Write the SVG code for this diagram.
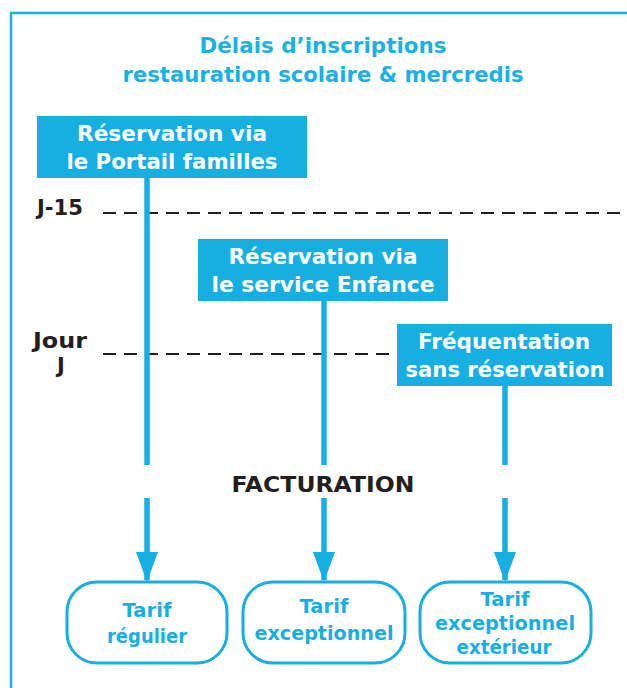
<svg xmlns="http://www.w3.org/2000/svg" width="627" height="688" viewBox="0 0 627 688">
<defs>
<style>
text{font-family:"DejaVu Sans","Liberation Sans",sans-serif;font-weight:700}
.frame{fill:none;stroke:#1ab1e3;stroke-width:2.5}
.title{font-size:21px;fill:#1ab1e3;text-anchor:middle}
.boxt{font-size:21px;fill:#ffffff;text-anchor:middle}
.lbl{font-size:21px;fill:#231f20}
.box{fill:#17aee1}
.tar{fill:#ffffff;stroke:#17aee1;stroke-width:3}
.tart{font-size:20px;fill:#17aee1;text-anchor:middle}
.dash{stroke:#231f20;stroke-width:2.2;stroke-dasharray:13 8;fill:none}
.vl{stroke:#17aee1;stroke-width:5.5;fill:none}
</style>
<marker id="arr" viewBox="0 0 30 22" refX="28" refY="11" markerWidth="30" markerHeight="22" markerUnits="userSpaceOnUse" orient="auto">
<path d="M0,0 L30,11 L0,22 Z" fill="#17aee1"/>
</marker>
</defs>
<path class="frame" d="M11,688 L11,13 L627,13"/>
<g id="title">
<text class="title" x="323" y="53" textLength="247" lengthAdjust="spacingAndGlyphs">Délais d’inscriptions</text>
<text class="title" x="323" y="82" textLength="401" lengthAdjust="spacingAndGlyphs">restauration scolaire &amp; mercredis</text>
</g>
<g id="timeline">
<text class="lbl" x="37" y="215" textLength="46" lengthAdjust="spacingAndGlyphs">J-15</text>
<path class="dash" d="M103,213 L627,213"/>
<text class="lbl" x="33" y="348" textLength="54" lengthAdjust="spacingAndGlyphs">Jour</text>
<text class="lbl" x="61" y="373" text-anchor="middle">J</text>
<path class="dash" d="M103,354 L397,354"/>
<text class="lbl" x="323" y="492" text-anchor="middle" font-size="23" textLength="183" lengthAdjust="spacingAndGlyphs">FACTURATION</text>
</g>
<g id="connectors">
<path class="vl" d="M147,178 L147,465"/>
<path class="vl" d="M147,498 L147,580" marker-end="url(#arr)"/>
<path class="vl" d="M324,301 L324,465"/>
<path class="vl" d="M324,498 L324,580" marker-end="url(#arr)"/>
<path class="vl" d="M505,386 L505,465"/>
<path class="vl" d="M505,498 L505,580" marker-end="url(#arr)"/>
</g>
<g id="portail">
<rect class="box" x="37" y="116" width="270" height="62"/>
<text class="boxt" x="172" y="141" textLength="190" lengthAdjust="spacingAndGlyphs">Réservation via</text>
<text class="boxt" x="172" y="169" textLength="211" lengthAdjust="spacingAndGlyphs">le Portail familles</text>
</g>
<g id="enfance">
<rect class="box" x="198" y="239" width="250" height="62"/>
<text class="boxt" x="323" y="264" textLength="189" lengthAdjust="spacingAndGlyphs">Réservation via</text>
<text class="boxt" x="323" y="292" textLength="223" lengthAdjust="spacingAndGlyphs">le service Enfance</text>
</g>
<g id="frequentation">
<rect class="box" x="397" y="324" width="215" height="62"/>
<text class="boxt" x="504" y="349" textLength="172" lengthAdjust="spacingAndGlyphs">Fréquentation</text>
<text class="boxt" x="505" y="377" textLength="199" lengthAdjust="spacingAndGlyphs">sans réservation</text>
</g>
<g id="tarif-regulier">
<rect class="tar" x="67" y="582" width="160" height="81" rx="30"/>
<text class="tart" x="147" y="617" textLength="49" lengthAdjust="spacingAndGlyphs">Tarif</text>
<text class="tart" x="147" y="643" textLength="80" lengthAdjust="spacingAndGlyphs">régulier</text>
</g>
<g id="tarif-exceptionnel">
<rect class="tar" x="243" y="582" width="162" height="81" rx="30"/>
<text class="tart" x="324" y="613" textLength="49" lengthAdjust="spacingAndGlyphs">Tarif</text>
<text class="tart" x="324" y="640" textLength="139" lengthAdjust="spacingAndGlyphs">exceptionnel</text>
</g>
<g id="tarif-exterieur">
<rect class="tar" x="420" y="582" width="171" height="81" rx="30"/>
<text class="tart" x="505" y="606" textLength="49" lengthAdjust="spacingAndGlyphs">Tarif</text>
<text class="tart" x="505" y="630" textLength="140" lengthAdjust="spacingAndGlyphs">exceptionnel</text>
<text class="tart" x="504" y="654" textLength="95" lengthAdjust="spacingAndGlyphs">extérieur</text>
</g>
</svg>
